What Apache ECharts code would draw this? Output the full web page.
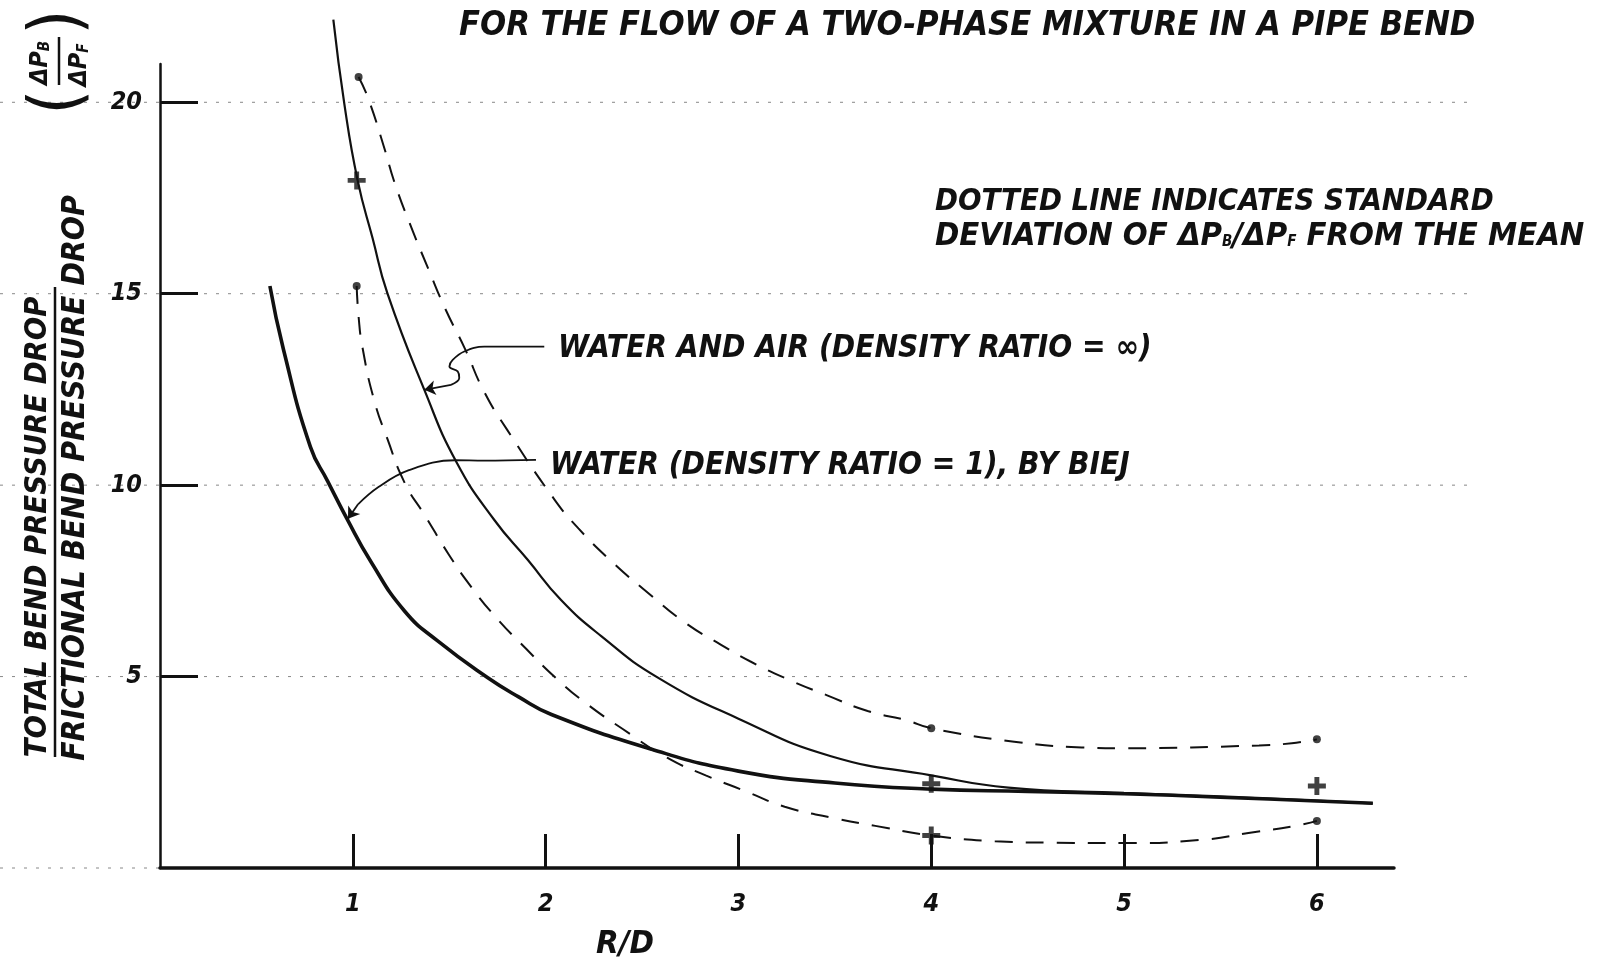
<!DOCTYPE html>
<html>
<head>
<meta charset="utf-8">
<script src="https://cdn.jsdelivr.net/npm/echarts@6/dist/echarts.min.js"></script>
<style>
  html, body { margin: 0; padding: 0; background: #fff; }
  #chart { width: 1606px; height: 965px; }
</style>
</head>
<body>
<div id="chart"></div>
<script>
const FONT = "'DejaVu Sans Condensed', 'Liberation Sans Narrow', 'DejaVu Sans', sans-serif";
const INK = '#111';

// axis ticks
const xTicks = [1, 2, 3, 4, 5, 6];
const yTicks = [5, 10, 15, 20];

// [R/D, dPb/dPf]
const waterAir = [[0.899, 22.16], [0.956, 19.96], [1.025, 17.96], [1.103, 16.44], [1.18, 15.0], [1.37, 12.5],
  [1.54, 10.58], [1.734, 9.09], [1.907, 8.05], [2.08, 7.0], [2.29, 6.05], [2.58, 4.98], [3.0, 3.9],
  [3.48, 2.92], [4.0, 2.42], [4.4, 2.1], [5.0, 1.96], [5.5, 1.86], [6.0, 1.76], [6.29, 1.69]];
const waterAirUpper = [[1.03, 20.66], [1.08, 20.1], [1.16, 18.86], [1.22, 17.85], [1.31, 16.65], [1.39, 15.67],
  [1.48, 14.6], [1.58, 13.58], [1.68, 12.45], [1.8, 11.45], [2.045, 9.63], [2.17, 8.87], [2.35, 7.97],
  [2.53, 7.19], [2.72, 6.42], [2.91, 5.83], [3.06, 5.4], [3.26, 4.92], [3.46, 4.51], [3.67, 4.1],
  [3.87, 3.86], [4.0, 3.65], [4.43, 3.3], [4.78, 3.15], [5.0, 3.13], [5.7, 3.2], [5.87, 3.26], [6.0, 3.36]];
const waterAirLower = [[1.02, 15.2], [1.03, 14.4], [1.05, 13.6], [1.11, 12.23], [1.18, 11.2], [1.27, 10.05],
  [1.375, 9.2], [1.5, 8.17], [1.61, 7.37], [1.74, 6.56], [1.9, 5.72], [2.06, 4.93], [2.21, 4.3], [2.4, 3.63],
  [2.63, 2.88], [2.83, 2.42], [3.03, 2.02], [3.24, 1.6], [3.49, 1.31], [3.71, 1.1], [4.0, 0.85], [4.33, 0.7],
  [4.65, 0.66], [5.0, 0.65], [5.39, 0.73], [5.68, 0.94], [5.89, 1.1], [6.0, 1.23]];
const water = [[0.57, 15.2], [0.64, 13.55], [0.78, 11.0], [0.87, 10.1], [0.97, 9.12], [1.094, 8.0],
  [1.267, 6.72], [1.44, 5.93], [1.7, 4.97], [1.86, 4.47], [2.03, 4.01], [2.55, 3.1], [3.0, 2.53],
  [3.5, 2.22], [4.0, 2.06], [4.5, 2.0], [5.0, 1.94], [5.5, 1.85], [6.0, 1.75], [6.29, 1.69]];

// plotted test points
const plusPoints = [[1.02, 17.96], [4.0, 2.2], [6.0, 2.14], [4.0, 0.85]];
const dotPoints = [[1.03, 20.66], [1.02, 15.2], [4.0, 3.65], [6.0, 3.36], [6.0, 1.23]];

// leader lines from the notes to the curves
const airLeader = [[1.993, 13.62], [1.682, 13.62], [1.578, 13.49], [1.518, 13.27], [1.501, 13.1],
  [1.544, 12.97], [1.552, 12.8], [1.509, 12.62]];
const airArrow = [[1.509, 12.62], [1.371, 12.49]];
const waterLeader = [[1.95, 10.66], [1.682, 10.64], [1.53, 10.65], [1.291, 10.39], [1.133, 9.95], [1.027, 9.5]];
const waterArrow = [[1.027, 9.5], [0.975, 9.12]];

const chart = echarts.init(document.getElementById('chart'));

const measure = document.createElement('canvas').getContext('2d');
function fit(text, width) {
  measure.font = 'italic bold 100px ' + FONT;
  return 100 * width / measure.measureText(text).width;
}
// hand lettered text, fitted to the width it takes in the drawing
function hand(text, x, y, width, align, rotation) {
  return {
    type: 'text', x: x, y: y, rotation: rotation || 0, silent: true,
    style: { text: text, fill: INK, fontFamily: FONT, fontStyle: 'italic', fontWeight: 'bold',
      fontSize: fit(text, width), align: align || 'left', verticalAlign: 'middle' }
  };
}

function curve(data, width, dashed) {
  return {
    type: 'line', data: data, smooth: 0.5, showSymbol: false, clip: false,
    silent: true, lineStyle: { color: INK, width: width, type: dashed ? [18, 13] : 'solid' }
  };
}
function leader(data, arrow) {
  return {
    type: 'line', data: data, smooth: 0.4, showSymbol: false, silent: true,
    lineStyle: { color: INK, width: 1.8 },
    markLine: {
      silent: true, symbol: ['none', 'arrow'], symbolSize: 11, label: { show: false },
      lineStyle: { color: INK, width: 1.8, type: 'solid' },
      data: [[{ coord: arrow[0] }, { coord: arrow[1] }]]
    }
  };
}

const tickFont = { color: INK, fontFamily: FONT, fontStyle: 'italic', fontWeight: 'bold', fontSize: 25 };

chart.setOption({
  animation: false,
  backgroundColor: '#fff',
  grid: { left: 160, right: 212, top: 64, bottom: 97 },
  xAxis: {
    type: 'value', min: 0, max: 6.4, interval: 1,
    axisLine: { show: true, lineStyle: { color: INK, width: 3.5 } },
    axisTick: { show: true, inside: true, length: 34, customValues: xTicks, lineStyle: { color: INK, width: 3 } },
    axisLabel: Object.assign({ customValues: xTicks, margin: 24 }, tickFont),
    splitLine: { show: false }
  },
  yAxis: {
    type: 'value', min: 0, max: 21, interval: 5,
    axisLine: { show: true, lineStyle: { color: INK, width: 2.5 } },
    axisTick: { show: true, inside: true, length: 38, customValues: yTicks, lineStyle: { color: INK, width: 3 } },
    axisLabel: Object.assign({ customValues: yTicks, margin: 18, padding: [0, 0, 20, 0] }, tickFont),
    splitLine: { show: false }
  },
  series: [
    curve(waterAir, 2.2, false),
    curve(water, 3.6, false),
    curve(waterAirUpper, 2, true),
    curve(waterAirLower, 2, true),
    leader(airLeader, airArrow),
    leader(waterLeader, waterArrow),
    {
      type: 'scatter', data: plusPoints, silent: true, symbolSize: 18,
      symbol: 'path://M4,0h3v4h4v3h-4v4h-3v-4h-4v-3h4z', itemStyle: { color: INK }
    },
    { type: 'scatter', data: dotPoints, silent: true, symbolSize: 8, itemStyle: { color: INK } }
  ]
});

// faint dotted guide lines of the graph paper, across the page at each y tick
const guides = [0].concat(yTicks).map(function (v) {
  const py = chart.convertToPixel({ gridIndex: 0 }, [0, v])[1];
  return {
    type: 'line', z: -1, silent: true,
    shape: { x1: 0, y1: py, x2: v === 0 ? 160 : 1470, y2: py },
    style: { stroke: '#888', lineWidth: 1, lineDash: [3, 9] }
  };
});

const sub = { fontSize: 15, padding: [10, 0, 0, 0], fontFamily: FONT, fontStyle: 'italic', fontWeight: 'bold', fill: INK };
const rot = Math.PI / 2;
const labelSize = fit('WATER AND AIR (DENSITY RATIO = ∞)', 594);

chart.setOption({
  graphic: guides.concat([
    hand('FOR THE FLOW OF A TWO-PHASE MIXTURE IN A PIPE BEND', 459, 26, 1017),
    hand('DOTTED LINE INDICATES STANDARD', 935, 202, 559),
    {
      type: 'text', x: 935, y: 237, silent: true,
      style: {
        text: 'DEVIATION OF ΔP{s|B}/ΔP{s|F} FROM THE MEAN', fill: INK, fontFamily: FONT, fontStyle: 'italic',
        fontWeight: 'bold', fontSize: fit('DEVIATION OF ΔP/ΔP FROM THE MEAN', 630), verticalAlign: 'middle',
        rich: { s: sub }
      }
    },
    {
      type: 'text', x: 558, y: 349, silent: true,
      style: { text: 'WATER AND AIR (DENSITY RATIO = ∞)', fill: INK, fontFamily: FONT, fontStyle: 'italic',
        fontWeight: 'bold', fontSize: labelSize, verticalAlign: 'middle' }
    },
    {
      type: 'text', x: 550, y: 466, silent: true,
      style: { text: 'WATER (DENSITY RATIO = 1), BY BIEJ', fill: INK, fontFamily: FONT, fontStyle: 'italic',
        fontWeight: 'bold', fontSize: labelSize, verticalAlign: 'middle' }
    },
    hand('R/D', 625, 944, 58, 'center'),
    // y axis title as a rotated fraction
    hand('TOTAL BEND PRESSURE DROP', 38, 527, 461, 'center', rot),
    hand('FRICTIONAL BEND PRESSURE DROP', 76, 478, 566, 'center', rot),
    { type: 'line', silent: true, shape: { x1: 55, y1: 287, x2: 55, y2: 757 }, style: { stroke: INK, lineWidth: 2.5 } },
    {
      type: 'text', x: 40, y: 63, rotation: rot, silent: true,
      style: { text: 'ΔP{s|B}', fill: INK, fontFamily: FONT, fontStyle: 'italic', fontWeight: 'bold', fontSize: 25,
        align: 'center', verticalAlign: 'middle', rich: { s: sub } }
    },
    {
      type: 'text', x: 79, y: 65, rotation: rot, silent: true,
      style: { text: 'ΔP{s|F}', fill: INK, fontFamily: FONT, fontStyle: 'italic', fontWeight: 'bold', fontSize: 25,
        align: 'center', verticalAlign: 'middle', rich: { s: sub } }
    },
    { type: 'line', silent: true, shape: { x1: 59, y1: 37, x2: 59, y2: 85 }, style: { stroke: INK, lineWidth: 2.5 } },
    { type: 'text', x: 60, y: 102, rotation: rot, silent: true,
      style: { text: '(', fill: INK, fontFamily: FONT, fontSize: 72, align: 'center', verticalAlign: 'middle' } },
    { type: 'text', x: 60, y: 22, rotation: rot, silent: true,
      style: { text: ')', fill: INK, fontFamily: FONT, fontSize: 72, align: 'center', verticalAlign: 'middle' } }
  ])
});
</script>
</body>
</html>
